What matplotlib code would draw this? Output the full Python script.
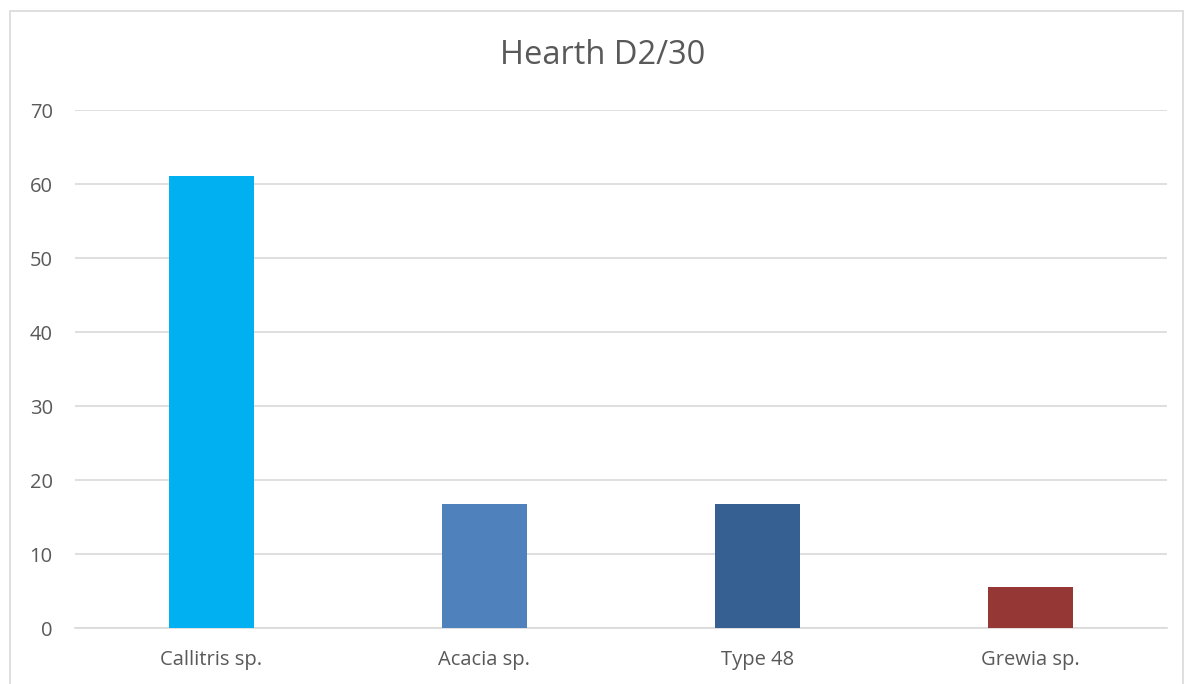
import matplotlib
matplotlib.use("Agg")
import matplotlib.pyplot as plt
from matplotlib.patches import Rectangle

categories = ["Callitris sp.", "Acacia sp.", "Type 48", "Grewia sp."]
values = [61.1, 16.7, 16.7, 5.6]
colors = ["#00B0F0", "#4F81BD", "#366092", "#953735"]
yticks = [0, 10, 20, 30, 40, 50, 60, 70]
title = "Hearth D2/30"

plt.rcParams["font.family"] = ["Open Sans", "DejaVu Sans"]

W, H = 1187, 684
fig = plt.figure(figsize=(W / 100, H / 100), dpi=100)
fig.patch.set_facecolor("white")

# chart frame
fig.patches.append(Rectangle((10 / W, -0.05), (1183 - 10) / W, 1.05 - 11 / H,
                             transform=fig.transFigure, fill=False,
                             edgecolor="#D9D9D9", linewidth=1.2))

ax = fig.add_axes([75 / W, 1 - 628 / H, (1167 - 75) / W, (628 - 110) / H])
x = range(len(categories))
ax.bar(x, values, width=0.315, color=colors, zorder=3)

ax.set_xlim(-0.5, len(categories) - 0.5)
ax.set_ylim(0, 70)
ax.set_yticks(yticks)
ax.set_yticklabels([str(t) for t in yticks])
ax.set_xticks(list(x))
ax.set_xticklabels(categories)
ax.yaxis.grid(True, color="#D9D9D9", linewidth=1.2, zorder=0)
ax.set_axisbelow(True)
for s in ["top", "right", "left"]:
    ax.spines[s].set_visible(False)
ax.spines["bottom"].set_color("#D9D9D9")
ax.spines["bottom"].set_linewidth(1.2)
ax.tick_params(axis="both", length=0, labelsize=14.5, labelcolor="#595959")
ax.tick_params(axis="y", pad=16)
ax.tick_params(axis="x", pad=16)

fig.text(603 / W, 1 - 55 / H, title, ha="center", va="center",
         fontsize=23.5, color="#595959")

fig.savefig("out.png", dpi=100, facecolor="white")
